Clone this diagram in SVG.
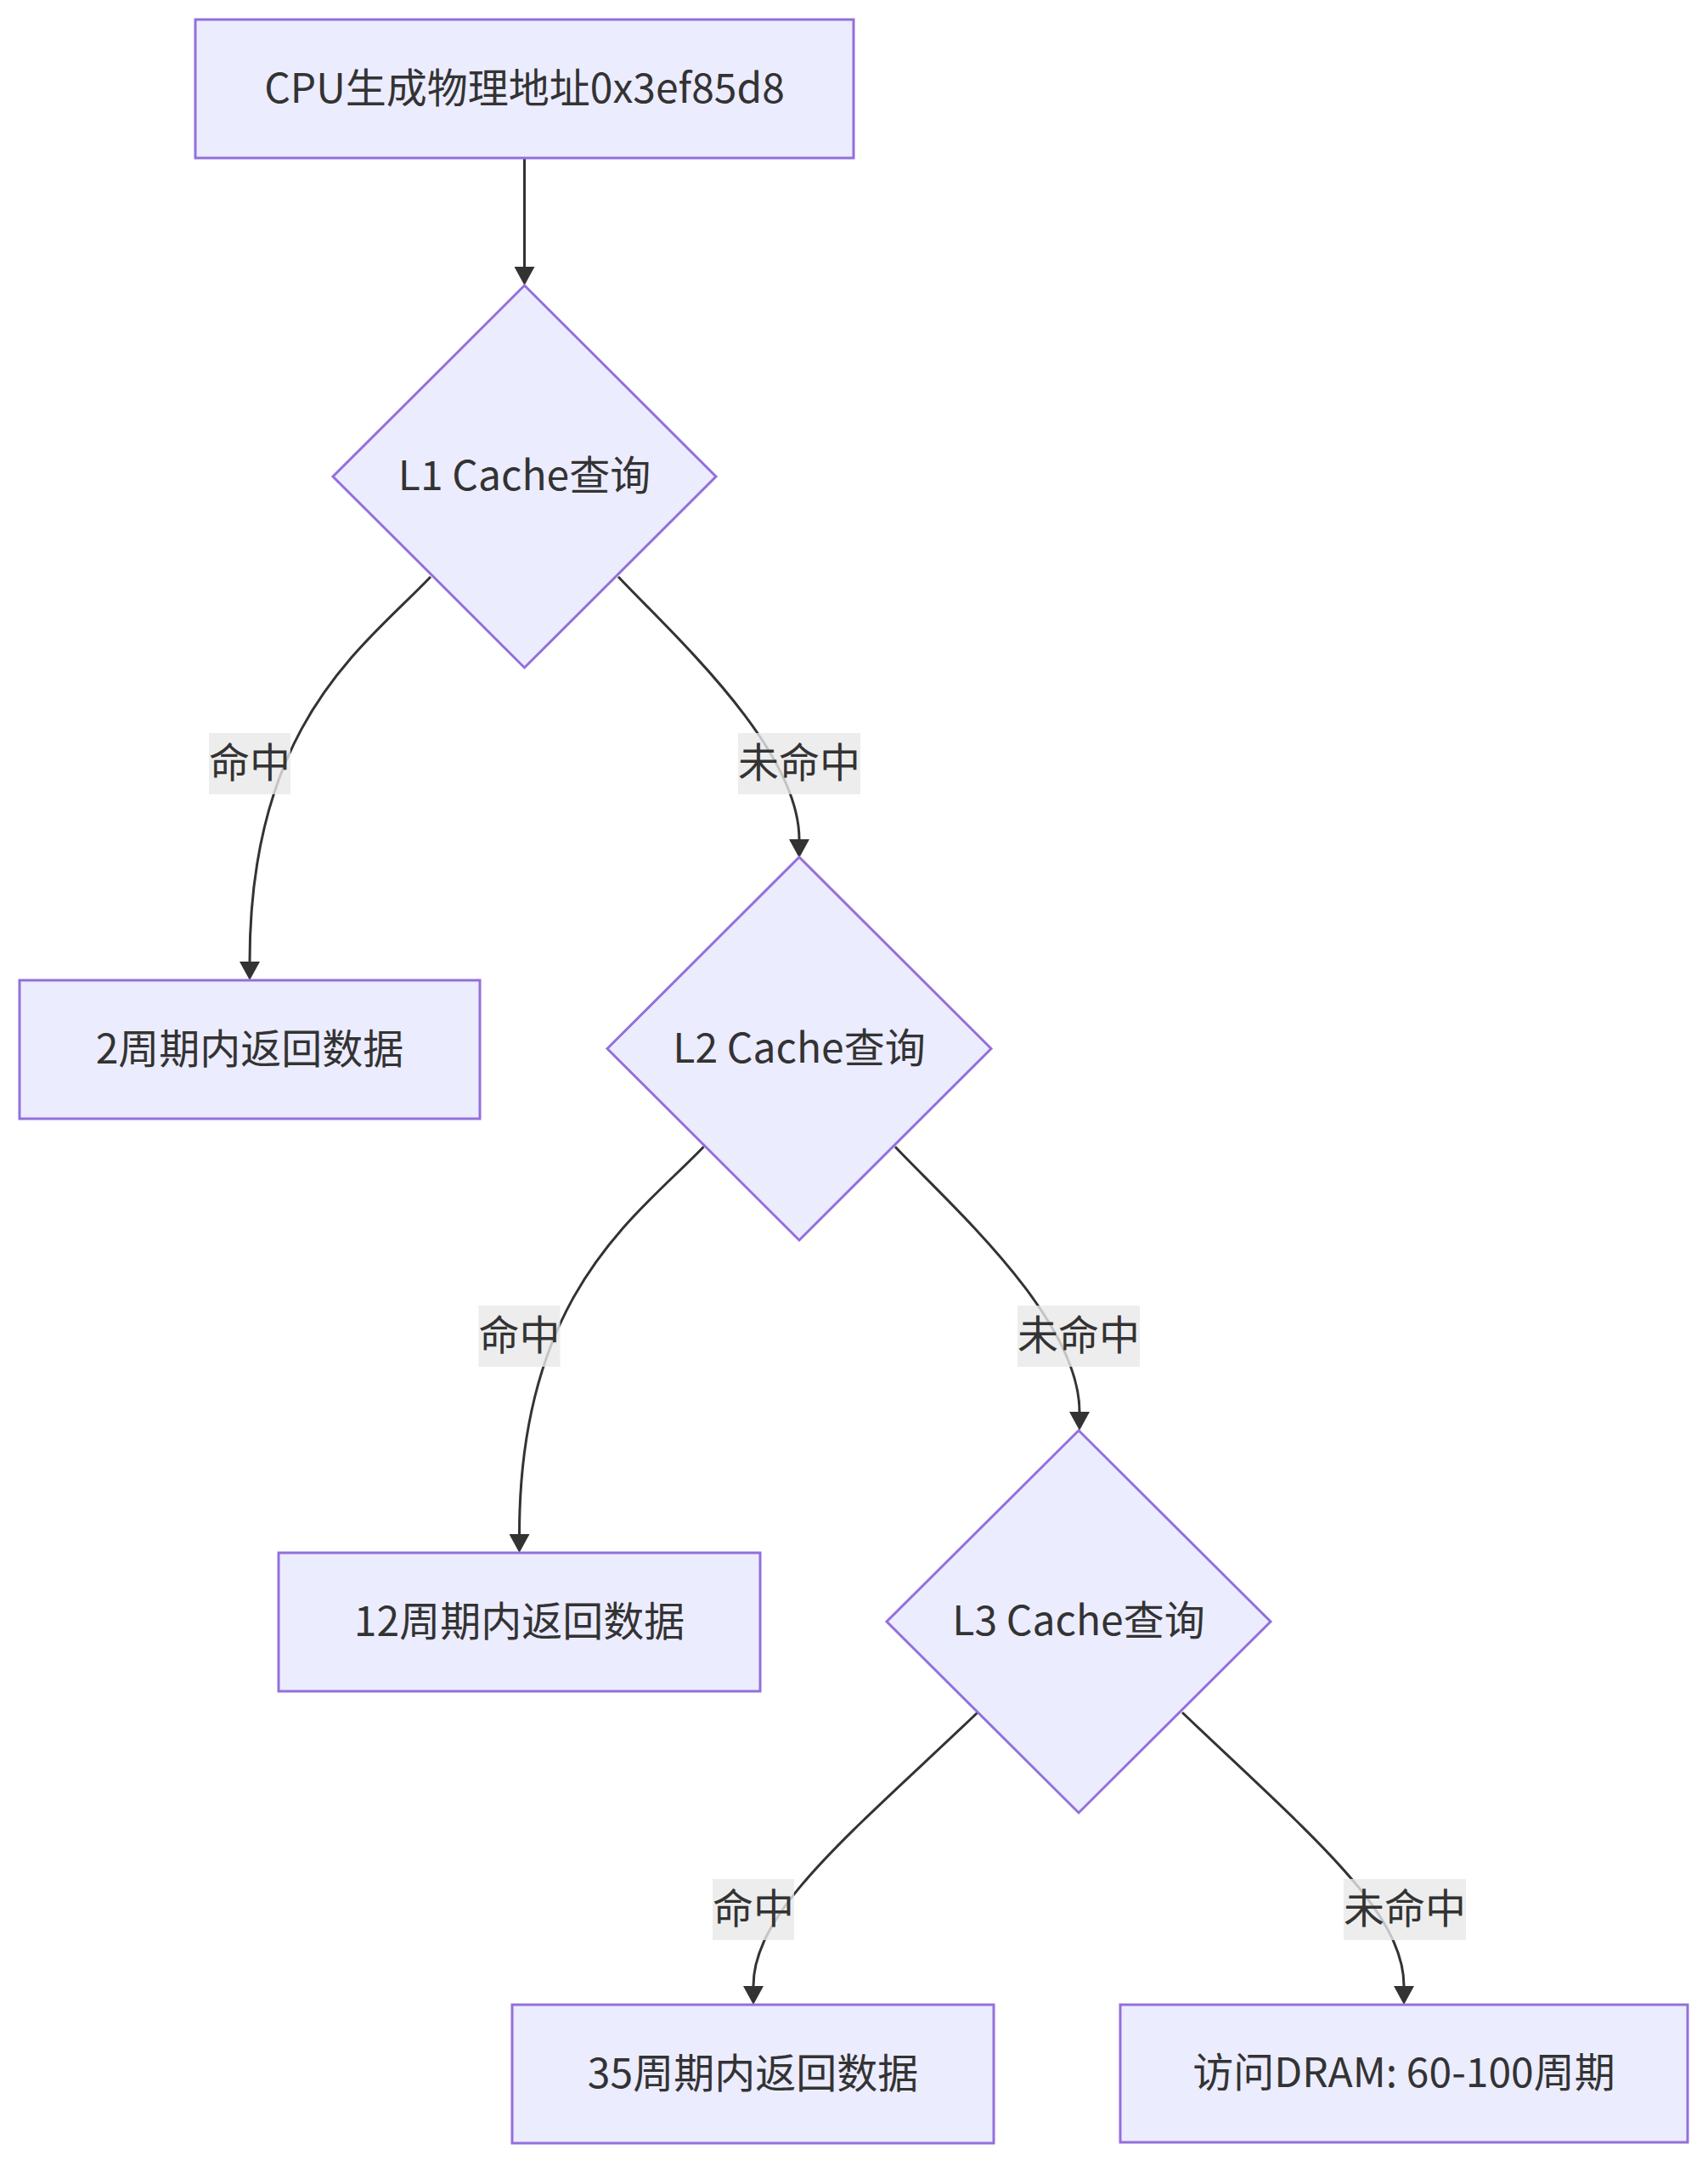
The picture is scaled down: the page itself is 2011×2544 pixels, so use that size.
<svg xmlns="http://www.w3.org/2000/svg" width="2011" height="2544" viewBox="0 0 2011 2544">
<style>
.node rect, .node polygon { fill: #ECECFF; stroke: #9370DB; stroke-width: 3; }
.node text, .lbl text { font-family: "Noto Sans CJK SC", "Noto Sans", sans-serif; font-size: 48px; fill: #333333; text-anchor: middle; }
.edge { fill: none; stroke: #333333; stroke-width: 3; marker-end: url(#arrow); }
.lbl rect { fill: #E8E8E8; fill-opacity: 0.8; }
</style>
<defs>
<marker id="arrow" markerUnits="userSpaceOnUse" markerWidth="24" markerHeight="24" refX="0" refY="12" orient="auto">
<path d="M0,0 L22,12 L0,24 z" fill="#333333"/>
</marker>
</defs>
<rect width="2011" height="2544" fill="#ffffff"/>
<g id="edges">
<path class="edge" d="M617.5,186 L617.5,314"/>
<path class="edge" d="M507,679 C430,760 294,850 294,1132"/>
<path class="edge" d="M728,679 C790,745 941,880 941,988"/>
<path class="edge" d="M828.5,1350 C751,1431 611.5,1521 611.5,1806"/>
<path class="edge" d="M1054,1350 C1116,1416 1271,1551 1271,1662"/>
<path class="edge" d="M1151,2016 C1000,2160 887,2250 887,2338"/>
<path class="edge" d="M1392,2016 C1543,2160 1653,2250 1653,2338"/>
</g>
<g id="edge-labels">
<g class="lbl"><rect x="246" y="863" width="96" height="72"/><text x="294" y="915">命中</text></g>
<g class="lbl"><rect x="869" y="863" width="144" height="72"/><text x="941" y="915">未命中</text></g>
<g class="lbl"><rect x="563.5" y="1537" width="96" height="72"/><text x="611.5" y="1589">命中</text></g>
<g class="lbl"><rect x="1198" y="1537" width="144" height="72"/><text x="1270" y="1589">未命中</text></g>
<g class="lbl"><rect x="839" y="2212" width="96" height="72"/><text x="887" y="2264">命中</text></g>
<g class="lbl"><rect x="1582" y="2212" width="144" height="72"/><text x="1654" y="2264">未命中</text></g>
</g>
<g id="A" class="node"><rect x="230" y="23" width="775" height="163"/><text x="617.5" y="120.5">CPU生成物理地址0x3ef85d8</text></g>
<g id="L1" class="node"><polygon points="617.5,336 843,561 617.5,786 392,561"/><text x="617.5" y="577">L1 Cache查询</text></g>
<g id="B" class="node"><rect x="23" y="1154" width="542" height="163"/><text x="294" y="1251.5">2周期内返回数据</text></g>
<g id="L2" class="node"><polygon points="941,1009 1167,1234.5 941,1460 715,1234.5"/><text x="941" y="1250.5">L2 Cache查询</text></g>
<g id="D" class="node"><rect x="328" y="1828" width="567" height="163"/><text x="611.5" y="1925.5">12周期内返回数据</text></g>
<g id="L3" class="node"><polygon points="1270,1684 1496,1909 1270,2134 1044,1909"/><text x="1270" y="1925">L3 Cache查询</text></g>
<g id="F" class="node"><rect x="603" y="2360" width="567" height="163"/><text x="886.5" y="2457.5">35周期内返回数据</text></g>
<g id="G" class="node"><rect x="1319" y="2360" width="668" height="162"/><text x="1653" y="2457">访问DRAM: 60-100周期</text></g>
</svg>
